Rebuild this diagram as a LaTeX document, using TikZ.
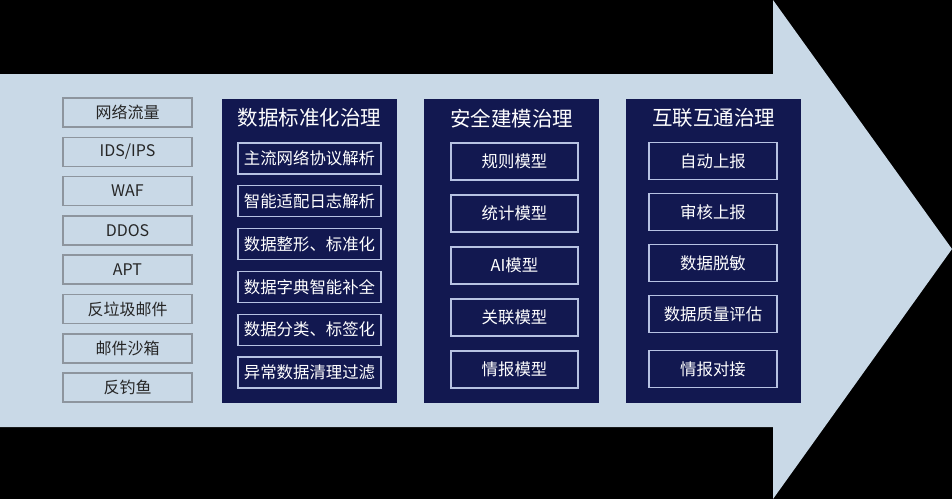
\documentclass[tikz,border=0pt]{standalone}
\usepackage{fontspec}
\setmainfont{Noto Sans CJK SC}
\usetikzlibrary{positioning}
\definecolor{arrowfill}{HTML}{C9D9E7}
\definecolor{panelfill}{HTML}{121850}
\definecolor{srcline}{HTML}{8D959E}
\definecolor{itemline}{HTML}{B7C2E2}
\tikzset{
x=1pt, y=-1pt,
source/.style={draw=srcline,line width=1.5pt,fill=arrowfill,minimum width=129pt,minimum height=29pt,inner sep=0pt,text=black!85,font=\fontsize{16}{16}\selectfont},
panel/.style={fill=panelfill,inner sep=0pt,minimum width=175pt,minimum height=304pt},
title/.style={text=white,font=\fontsize{20.5}{21}\selectfont},
item/.style={draw=itemline,line width=1.3pt,minimum width=128pt,minimum height=37pt,inner sep=0pt,text=white,font=\fontsize{16.4}{16}\selectfont},
}

\begin{document}
\begin{tikzpicture}
\fill[black] (0,0) rectangle (952,499);
% big arrow
\fill[arrowfill] (0,74) -- (773,74) -- (773,0) -- (952,249)
  -- (773,499) -- (773,427) -- (0,427) -- cycle;

% sources
\node[source] (src1) at (127.5,112.5) {网络流量};
\node[source, below=8.8pt of src1] (src2) {IDS/IPS};
\node[source, below=8.8pt of src2] (src3) {WAF};
\node[source, below=8.8pt of src3] (src4) {DDOS};
\node[source, below=8.8pt of src4] (src5) {APT};
\node[source, below=8.8pt of src5] (src6) {反垃圾邮件};
\node[source, below=8.8pt of src6] (src7) {邮件沙箱};
\node[source, below=8.8pt of src7] (src8) {反钓鱼};

% panel 1
\node[panel] (std) at (309.5,251) {};
\node[title] (stdT) at (309.5,118) {数据标准化治理};
\node[item, minimum width=143pt, minimum height=31pt] (std1) at (309.5,158.5) {主流网络协议解析};
\node[item, minimum width=143pt, minimum height=31pt, below=10.5pt of std1] (std2) {智能适配日志解析};
\node[item, minimum width=143pt, minimum height=31pt, below=10.5pt of std2] (std3) {数据整形、标准化};
\node[item, minimum width=143pt, minimum height=31pt, below=10.5pt of std3] (std4) {数据字典智能补全};
\node[item, minimum width=143pt, minimum height=31pt, below=10.5pt of std4] (std5) {数据分类、标签化};
\node[item, minimum width=143pt, minimum height=31pt, below=10.5pt of std5] (std6) {异常数据清理过滤};

% panel 2
\node[panel] (mdl) at (511.5,251) {};
\node[title] (mdlT) at (511.5,119) {安全建模治理};
\node[item, minimum width=127pt] (mdl1) at (514.5,161.5) {规则模型};
\node[item, minimum width=127pt, below=13.7pt of mdl1] (mdl2) {统计模型};
\node[item, minimum width=127pt, below=13.7pt of mdl2] (mdl3) {AI模型};
\node[item, minimum width=127pt, below=13.7pt of mdl3] (mdl4) {关联模型};
\node[item, minimum width=127pt, below=13.7pt of mdl4] (mdl5) {情报模型};

% panel 3
\node[panel] (lnk) at (713.5,251) {};
\node[title] (lnkT) at (713.5,118) {互联互通治理};
\node[item] (lnk1) at (713,161) {自动上报};
\node[item, below=12.7pt of lnk1] (lnk2) {审核上报};
\node[item, below=12.7pt of lnk2] (lnk3) {数据脱敏};
\node[item, below=12.7pt of lnk3] (lnk4) {数据质量评估};
\node[item, below=16.7pt of lnk4] (lnk5) {情报对接};
\end{tikzpicture}
\end{document}
